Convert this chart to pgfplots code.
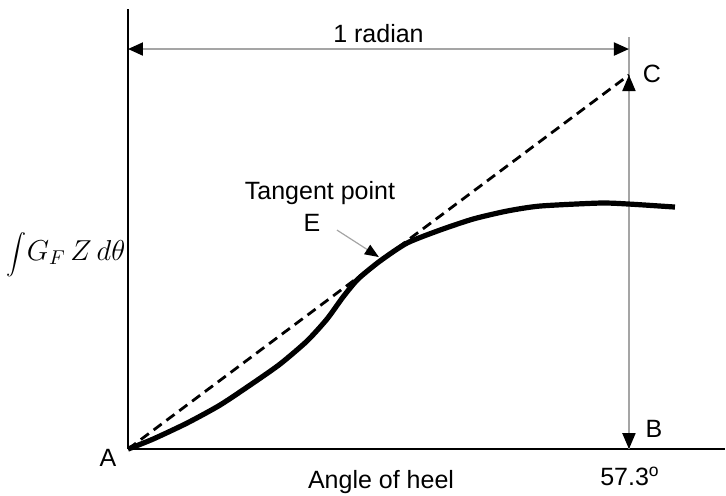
\documentclass[border=0pt]{standalone}
\usepackage{pgfplots}
\pgfplotsset{compat=1.18}
\usepackage{fontspec}
\setmainfont{Liberation Sans}
\usetikzlibrary{arrows.meta}
\definecolor{lgray}{RGB}{165,165,165}
\tikzset{lbl/.style={font=\fontsize{12.5}{15}\selectfont, inner sep=0pt}}
\begin{document}
\begin{tikzpicture}
\begin{axis}[
  scale only axis, width=298.5pt, height=220pt,
  xmin=0, xmax=68.3, ymin=0, ymax=440,
  axis x line=bottom, axis y line=left,
  axis line style={line width=0.8pt, -},
  ticks=none, clip=false,
]
% bounding box helper
\path (axis cs:-14.64,-46) rectangle (axis cs:68.4,449);
% vertical gray line at 1 radian
\draw[lgray, line width=1pt] (axis cs:57.3,0) -- (axis cs:57.3,412);
\draw[lgray, line width=1pt, {Triangle[length=8pt,width=6.5pt,color=black]}-{Triangle[length=8pt,width=6.5pt,color=black]}] (axis cs:57.3,0) -- (axis cs:57.3,374);
% horizontal 1 radian arrow
\draw[lgray, line width=1pt, {Triangle[length=7.5pt,width=6.5pt,color=black]}-{Triangle[length=7.5pt,width=6.5pt,color=black]}] (axis cs:0,400) -- (axis cs:57.3,400);
% dashed tangent line
\addplot[black, line width=1.4pt, dash pattern=on 5pt off 3pt] coordinates {(0,0) (57.3,374)};
% curve
\addplot[black, line width=2.6pt, smooth, tension=0.4] coordinates {
(0,0) (2.86,10) (6.75,26) (10.52,44) (14.30,66) (17.39,85) (20.47,108)
(22.76,130) (24.59,152) (26.31,170) (28.82,188) (31.91,206) (35.69,219)
(39.46,230) (43.35,238) (47.12,243) (53.99,246) (57.30,245) (62.56,242)};
% tangent point pointer
\draw[lgray, line width=0.6pt, -{Triangle[length=7pt,width=5.5pt,color=black]}] (axis cs:23.9,219) -- (axis cs:28.7,192);
% labels
\node[lbl] at (axis cs:28.65,415) {1 radian};
\node[lbl] at (axis cs:59.93,375) {C};
\node[lbl] at (axis cs:60.16,20) {B};
\node[lbl] at (axis cs:-2.29,-9) {A};
\node[lbl] at (axis cs:28.94,-33) {Angle of heel};
\node[lbl] at (axis cs:57.42,-27) {57.3\textsuperscript{o}};
\node[lbl] at (axis cs:21.96,256) {Tangent point};
\node[lbl] at (axis cs:21.05,226) {E};
\node[inner sep=0pt] at (axis cs:-7.09,194) {\fontsize{10.5}{13}\selectfont$\displaystyle\int$\fontsize{14.5}{18}\selectfont$G_{F}\,Z\,d\theta$};
\end{axis}
\end{tikzpicture}
\end{document}
